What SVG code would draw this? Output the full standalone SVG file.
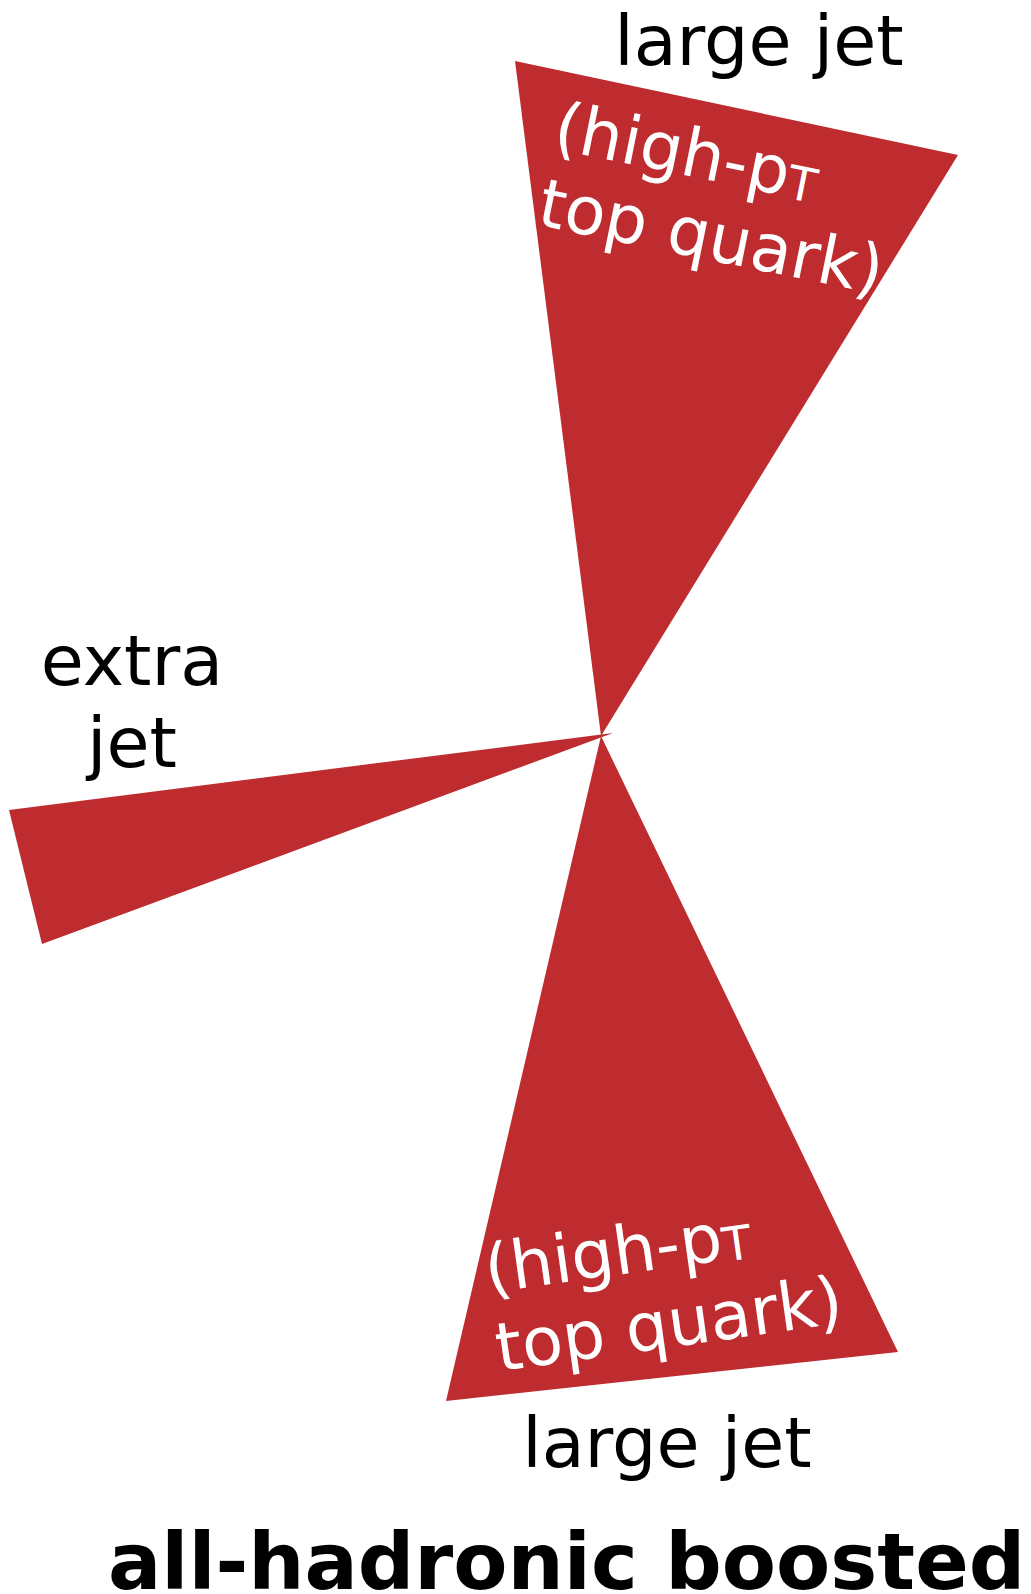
<svg xmlns="http://www.w3.org/2000/svg" width="1031" height="1594" viewBox="0 0 1031 1594">
<style>
.jet{fill:#bf2c2f;stroke:none}
.lbl{font-family:"DejaVu Sans",Verdana,sans-serif;font-size:70px;fill:#000}
.in{font-family:"DejaVu Sans",Verdana,sans-serif;font-size:67px;fill:#fff}
.sub{font-size:47px}
.title{font-family:"DejaVu Sans",Verdana,sans-serif;font-size:79px;font-weight:bold;fill:#000}
</style>
<rect width="1031" height="1594" fill="#fff"/>
<g id="jet-top">
<polygon class="jet" points="515,61 958,155 601,736"/>
<g transform="translate(551,148) rotate(11.5)">
<text class="in" x="0" y="0">(high-p<tspan class="sub" dy="2">T</tspan></text>
<text class="in" x="0" y="78">top quark)</text>
</g>
<text class="lbl" x="759" y="65" text-anchor="middle">large jet</text>
</g>
<g id="jet-extra">
<polygon class="jet" points="9,810 42,944 613,733"/>
<text class="lbl" x="132" y="685" text-anchor="middle">extra</text>
<text class="lbl" x="132" y="767" text-anchor="middle">jet</text>
</g>
<g id="jet-bottom">
<polygon class="jet" points="601,736 898,1352 446,1401"/>
<g transform="translate(488,1293) rotate(-8)">
<text class="in" x="0" y="0">(high-p<tspan class="sub" dy="2">T</tspan></text>
<text class="in" x="0" y="79">top quark)</text>
</g>
<text class="lbl" x="667" y="1467" text-anchor="middle">large jet</text>
</g>
<g id="connectors"></g>
<text class="title" x="108" y="1589">all-hadronic boosted</text>
</svg>
